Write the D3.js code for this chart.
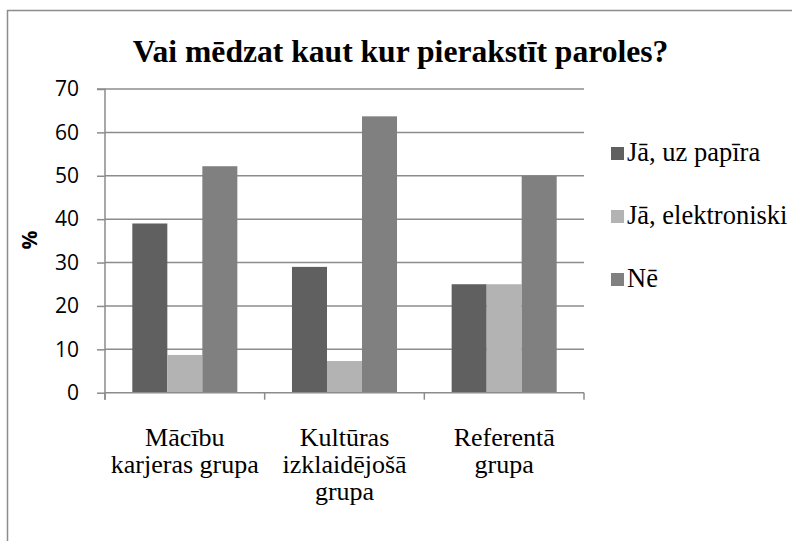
<!DOCTYPE html>
<html><head><meta charset="utf-8">
<script src="https://cdn.jsdelivr.net/npm/d3@7/dist/d3.min.js"></script>
<style>body{margin:0;background:#fff}svg{display:block}</style>
</head><body>
<script>
const title = "Vai mēdzat kaut kur pierakstīt paroles?";
const categories = [["Mācību", "karjeras grupa"], ["Kultūras", "izklaidējošā", "grupa"], ["Referentā", "grupa"]];
const seriesNames = ["Jā, uz papīra", "Jā, elektroniski", "Nē"];
const seriesColors = ["#606060", "#b3b3b3", "#808080"];
const papirs = [39.0, 29.0, 25.0];
const elektroniski = [8.7, 7.3, 25.0];
const ne = [52.2, 63.7, 50.0];
const yTicks = [0, 10, 20, 30, 40, 50, 60, 70];
const yLabel = "%";

(function () {
function available(name) {
  const c = document.createElement("canvas").getContext("2d");
  const s = "abcdefghijklmnopqrstuvwxyzMWāīū0123";
  let diff = false;
  for (const base of ["monospace", "sans-serif"]) {
    c.font = "72px " + base; const w0 = c.measureText(s).width;
    c.font = `72px "${name}", ${base}`; const w1 = c.measureText(s).width;
    if (Math.abs(w1 - w0) > 0.5) diff = true;
  }
  return diff;
}
const serifCands = ["Liberation Serif", "Tinos", "Times New Roman", "Times", "Nimbus Roman", "FreeSerif", "DejaVu Serif", "Noto Serif"];
let SERIF = "serif";
for (const f of serifCands) { if (available(f)) { SERIF = `"${f}"`; break; } }
const SERIF_STACK = SERIF + ", serif";
const SANS = '"Open Sans", "Noto Sans", sans-serif';

const W = 792, H = 541;
const svg = d3.select("body").append("svg").attr("width", W).attr("height", H);
svg.append("rect").attr("x", 7.5).attr("y", 10.5).attr("width", W + 10).attr("height", H + 10)
  .attr("fill", "none").attr("stroke", "#8c8c8c").attr("stroke-width", 1.5);

const pL = 105, pR = 584, pT = 89, pB = 392.7;
const series = [papirs, elektroniski, ne];
const y = d3.scaleLinear().domain([0, 70]).range([pB, pT]);
const x0 = d3.scaleBand().domain(d3.range(categories.length)).range([pL, pR]).paddingInner(0).paddingOuter(0);
const x1 = d3.scaleBand().domain(d3.range(series.length)).range([0, x0.bandwidth()]).paddingOuter(0.78).paddingInner(0);

svg.append("g").selectAll("line").data(yTicks.filter(d => d > 0)).join("line")
  .attr("x1", pL).attr("x2", pR).attr("y1", d => y(d)).attr("y2", d => y(d))
  .attr("stroke", "#8c8c8c").attr("stroke-width", 1.5);

const g = svg.append("g");
series.forEach((vals, si) => {
  g.selectAll(null).data(vals).join("rect")
    .attr("x", (d, i) => x0(i) + x1(si))
    .attr("width", x1.bandwidth())
    .attr("y", d => y(d))
    .attr("height", d => pB - y(d))
    .attr("fill", seriesColors[si]);
});

const yAxis = d3.axisLeft(y).tickValues(yTicks).tickSize(8).tickPadding(18).tickFormat(d3.format("d"));
const ya = svg.append("g").attr("transform", `translate(${pL},0)`).call(yAxis);
ya.attr("font-family", SANS).attr("font-size", 21);
ya.select(".domain").attr("stroke", "#8c8c8c").attr("stroke-width", 1.5).attr("d", `M-8,${pT}H0V${pB + 7}`);
ya.selectAll(".tick line").attr("stroke", "#8c8c8c").attr("stroke-width", 1.5);
ya.selectAll(".tick text").attr("fill", "#000");

const xEdges = d3.range(categories.length + 1).map(i => i < categories.length ? x0(i) : x0(i - 1) + x0.bandwidth());
svg.append("line").attr("x1", pL).attr("x2", pR).attr("y1", pB).attr("y2", pB)
  .attr("stroke", "#8c8c8c").attr("stroke-width", 1.5);
svg.append("g").selectAll("line").data(xEdges).join("line")
  .attr("x1", d => d).attr("x2", d => d).attr("y1", pB).attr("y2", pB + 7)
  .attr("stroke", "#8c8c8c").attr("stroke-width", 1.5);

categories.forEach((lines, i) => {
  const t = svg.append("text").attr("text-anchor", "middle").attr("font-family", SERIF_STACK)
    .attr("font-size", 26).attr("fill", "#000");
  lines.forEach((ln, j) => {
    t.append("tspan").attr("x", x0(i) + x0.bandwidth() / 2).attr("y", 446 + j * 27).text(ln);
  });
});

svg.append("text").attr("transform", "translate(37,240) rotate(-90)").attr("text-anchor", "middle")
  .attr("font-family", SANS).attr("font-weight", "bold").attr("font-size", 21).text(yLabel);

svg.append("text").attr("x", 400.5).attr("y", 62).attr("text-anchor", "middle")
  .attr("font-family", SERIF_STACK).attr("font-weight", "bold").attr("font-size", 31.6).text(title);

const lg = svg.append("g");
seriesNames.forEach((n, i) => {
  const cy = 153 + i * 63;
  lg.append("rect").attr("x", 611).attr("y", cy - 6).attr("width", 13).attr("height", 13).attr("fill", seriesColors[i]);
  lg.append("text").attr("x", 627).attr("y", cy + 8).attr("font-family", SERIF_STACK)
    .attr("font-size", 26.5).text(n);
});
})();
</script>
</body></html>
